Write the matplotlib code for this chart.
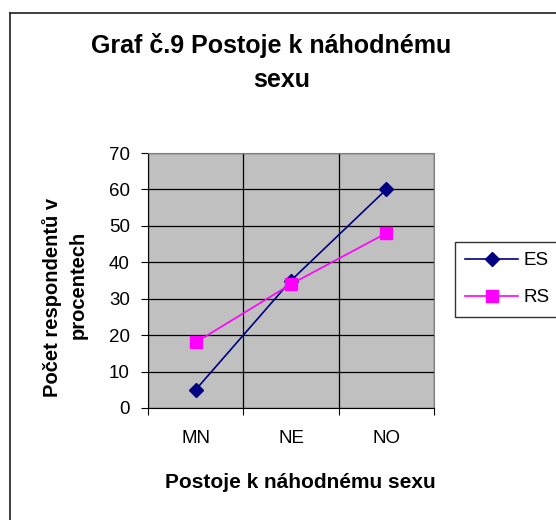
import matplotlib
matplotlib.use("Agg")
import matplotlib.pyplot as plt
from matplotlib.lines import Line2D

categories = ["MN", "NE", "NO"]
es_values = [5, 35, 60]
rs_values = [18, 34, 48]
yticks = [0, 10, 20, 30, 40, 50, 60, 70]

plt.rcParams['font.family'] = ['Liberation Sans', 'DejaVu Sans']

W, H = 556, 520
fig = plt.figure(figsize=(W/100, H/100), dpi=100)
fig.patch.set_facecolor('white')

# outer frame (left & top lines, continuing off the image)
fig.add_artist(Line2D([10/W, 10/W], [0, 1-12.5/H], transform=fig.transFigure, color='#303030', lw=1.3))
fig.add_artist(Line2D([10/W, 1], [1-12.5/H, 1-12.5/H], transform=fig.transFigure, color='#303030', lw=1.3))

ax = fig.add_axes([148/W, 1-408/H, (434-148)/W, (408-153)/H])
ax.set_facecolor('#c0c0c0')
x = list(range(len(categories)))
ax.plot(x, es_values, color='#000080', lw=1.2, marker='D', markersize=7.5, markerfacecolor='#000080', markeredgecolor='#000080', label='ES')
ax.plot(x, rs_values, color='#ff00ff', lw=1.2, marker='s', markersize=8.5, markerfacecolor='#ff00ff', markeredgecolor='#ff00ff', label='RS')

ax.set_xlim(-0.5, len(categories)-0.5)
ax.set_ylim(0, 70)
ax.set_yticks(yticks)
ax.set_yticklabels([str(v) for v in yticks], fontsize=13.5)
ax.set_xticks([i - 0.5 for i in range(len(categories)+1)])
ax.set_xticklabels([])
ax.set_xticks(x, minor=True)
ax.set_xticklabels(categories, minor=True, fontsize=13.5)
ax.tick_params(axis='x', which='minor', length=0, pad=16)
ax.tick_params(axis='x', which='major', length=5, direction='out', color='black')
ax.tick_params(axis='y', length=5, direction='out', pad=8)
ax.grid(True, which='major', color='black', lw=0.9)
ax.set_axisbelow(True)
for s in ax.spines.values():
    s.set_color('#808080')
ax.spines['left'].set_color('black')
ax.spines['bottom'].set_color('black')

fig.text(271/W, 1-45/H, "Graf č.9 Postoje k náhodnému", ha='center', va='center', fontsize=18, fontweight='bold')
fig.text(282/W, 1-80/H, "sexu", ha='center', va='center', fontsize=18, fontweight='bold')
fig.text(300/W, 1-483/H, "Postoje k náhodnému sexu", ha='center', va='center', fontsize=15, fontweight='bold')
fig.text(52/W, 1-297/H, "Počet respondentů v", ha='center', va='center', rotation=90, fontsize=14.5, fontweight='bold')
fig.text(78/W, 1-285/H, "procentech", ha='center', va='center', rotation=90, fontsize=14.5, fontweight='bold')

leg = fig.legend(loc='upper left', bbox_to_anchor=(455/W, 1-242/H), frameon=True, fontsize=13.5,
                 handlelength=2.8, borderpad=0.55, labelspacing=1.05, handletextpad=0.3, fancybox=False,
                 borderaxespad=0)
leg.get_frame().set_edgecolor('black')
leg.get_frame().set_linewidth(1.0)

fig.savefig("out.png", dpi=100)
